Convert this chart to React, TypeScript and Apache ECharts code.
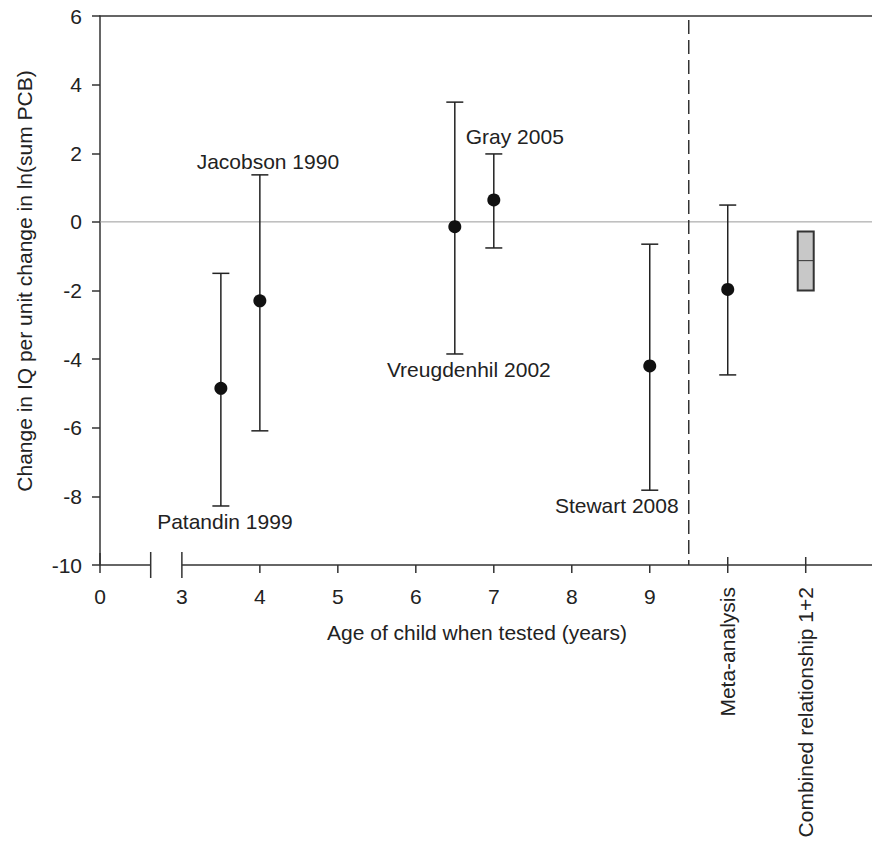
import React, { useEffect, useRef } from "react";
import * as echarts from "echarts";

// ---- data ----
const STUDIES = ["Patandin 1999", "Jacobson 1990", "Vreugdenhil 2002", "Gray 2005", "Stewart 2008"];
const AGES = [3.5, 4, 6.5, 7, 9];
const MEANS = [-4.85, -2.3, -0.14, 0.64, -4.2];
const LOWER = [-8.28, -6.09, -3.85, -0.76, -7.82];
const UPPER = [-1.5, 1.37, 3.49, 1.98, -0.65];

const META_POS = 10;
const META_MEAN = -1.97;
const META_LOWER = -4.46;
const META_UPPER = 0.49;

const COMBINED_POS = 11;
const COMBINED_LOW = -2.0;
const COMBINED_MID = -1.13;
const COMBINED_HIGH = -0.28;

const X_TICK_VALUES = [3, 4, 5, 6, 7, 8, 9];
const X_TICK_LABELS = ["3", "4", "5", "6", "7", "8", "9"];
const X_ZERO_LABEL = "0";
const CAT_POS = [10, 11];
const CAT_LABELS = ["Meta-analysis", "Combined relationship 1+2"];
const DIVIDER_POS = 9.5;

// broken-axis layout (axis units)
const X_MIN = 1.95; // where "0" sits on the broken axis
const BREAK_POS = 2.6;
const X_MAX = 11.85;
const Y_MIN = -10;
const Y_MAX = 6;

// label placement: anchor end of bar + pixel offset
const LABEL_PLACE: { end: "low" | "high"; dx: number; dy: number }[] = [
  { end: "low", dx: 4, dy: 16 },
  { end: "high", dx: 8, dy: -13 },
  { end: "low", dx: 14, dy: 16 },
  { end: "high", dx: 21, dy: -17 },
  { end: "low", dx: -33, dy: 15 },
];

const FONT = "'Liberation Sans', Arial, Helvetica, sans-serif";
const FS = 21;
const INK = "#222";

export default function App() {
  const ref = useRef<HTMLDivElement>(null);
  useEffect(() => {
    if (!ref.current) return;
    const chart = echarts.init(ref.current, undefined, { renderer: "svg" });

    const barData = AGES.map((a, i) => [a, LOWER[i], UPPER[i], i]);
    barData.push([META_POS, META_LOWER, META_UPPER, -1]);
    const dotData = AGES.map((a, i) => [a, MEANS[i]]);
    dotData.push([META_POS, META_MEAN]);

    const option: any = {
      animation: false,
      grid: { left: 100, right: 0, top: 16, bottom: 278 },
      xAxis: {
        type: "value",
        position: "top",
        min: X_MIN,
        max: X_MAX,
        axisLine: { show: true, onZero: false, lineStyle: { color: "#333", width: 1.5 } },
        axisTick: { show: false },
        axisLabel: { show: false },
        splitLine: { show: false },
      },
      yAxis: {
        type: "value",
        min: Y_MIN,
        max: Y_MAX,
        interval: 2,
        axisLine: { show: true, onZero: false, lineStyle: { color: "#333", width: 1.5 } },
        axisTick: { show: true, length: 8, lineStyle: { color: "#333", width: 1.5 } },
        axisLabel: { fontSize: FS, fontFamily: FONT, color: INK, margin: 18 },
        splitLine: { show: false },
      },
      graphic: [
        {
          type: "text",
          x: 477,
          y: 632,
          style: {
            text: "Age of child when tested (years)",
            fontSize: FS,
            fontFamily: FONT,
            fill: INK,
            align: "center",
            verticalAlign: "middle",
          },
        },
        {
          type: "text",
          x: 24,
          y: 281,
          rotation: Math.PI / 2,
          style: {
            text: "Change in IQ per unit change in ln(sum PCB)",
            fontSize: FS,
            fontFamily: FONT,
            fill: INK,
            align: "center",
            verticalAlign: "middle",
          },
        },
      ],
      series: [
        // axis decorations: zero line, divider, broken bottom axis, ticks, labels
        {
          type: "custom",
          silent: true,
          z: 1,
          data: [[X_MIN, Y_MIN]],
          renderItem: (params: any, api: any) => {
            const children: any[] = [];
            const axisY = api.coord([X_MIN, Y_MIN])[1];
            const topY = api.coord([X_MIN, Y_MAX])[1];
            const z0 = api.coord([X_MIN, 0]);
            const z1 = api.coord([X_MAX, 0]);
            children.push({
              type: "line",
              shape: { x1: z0[0], y1: z0[1], x2: z1[0], y2: z1[1] },
              style: { stroke: "#9a9a9a", lineWidth: 1 },
            });
            const dx = api.coord([DIVIDER_POS, 0])[0];
            children.push({
              type: "line",
              shape: { x1: dx, y1: topY + 4, x2: dx, y2: axisY },
              style: { stroke: "#333", lineWidth: 1.5, lineDash: [14, 6] },
            });
            const seg = (a: number, b: number) => {
              const pa = api.coord([a, Y_MIN])[0];
              const pb = api.coord([b, Y_MIN])[0];
              children.push({
                type: "line",
                shape: { x1: pa, y1: axisY, x2: pb, y2: axisY },
                style: { stroke: "#333", lineWidth: 1.5 },
              });
            };
            seg(X_MIN, BREAK_POS);
            seg(3, X_MAX);
            const tick = (v: number, up: number, down: number) => {
              const px = api.coord([v, Y_MIN])[0];
              children.push({
                type: "line",
                shape: { x1: px, y1: axisY - up, x2: px, y2: axisY + down },
                style: { stroke: "#333", lineWidth: 1.5 },
              });
              return px;
            };
            const numLabel = (px: number, text: string) => {
              children.push({
                type: "text",
                x: px,
                y: axisY + 31.5,
                style: { text, fontSize: FS, fontFamily: FONT, fill: INK, align: "center", verticalAlign: "middle" },
              });
            };
            numLabel(tick(X_MIN, 12, 8), X_ZERO_LABEL);
            tick(BREAK_POS, 13, 13);
            X_TICK_VALUES.forEach((v, i) => {
              const px = v === 3 ? tick(v, 13, 13) : tick(v, 0, 8);
              numLabel(px, X_TICK_LABELS[i]);
            });
            CAT_POS.forEach((v, i) => {
              const px = tick(v, 8, 8);
              children.push({
                type: "text",
                x: px,
                y: axisY + 22,
                rotation: Math.PI / 2,
                style: {
                  text: CAT_LABELS[i],
                  fontSize: FS,
                  fontFamily: FONT,
                  fill: INK,
                  align: "right",
                  verticalAlign: "middle",
                },
              });
            });
            return { type: "group", children };
          },
        },
        // error bars
        {
          type: "custom",
          silent: true,
          z: 2,
          data: barData,
          renderItem: (params: any, api: any) => {
            const x = api.value(0);
            const lo = api.coord([x, api.value(1)]);
            const hi = api.coord([x, api.value(2)]);
            const idx = api.value(3);
            const w = 8.5;
            const st = { stroke: INK, lineWidth: 1.5 };
            const children: any[] = [
              { type: "line", shape: { x1: lo[0], y1: lo[1], x2: hi[0], y2: hi[1] }, style: st },
              { type: "line", shape: { x1: lo[0] - w, y1: lo[1], x2: lo[0] + w, y2: lo[1] }, style: st },
              { type: "line", shape: { x1: hi[0] - w, y1: hi[1], x2: hi[0] + w, y2: hi[1] }, style: st },
            ];
            if (idx >= 0) {
              const pl = LABEL_PLACE[idx];
              const anchor = pl.end === "low" ? lo : hi;
              children.push({
                type: "text",
                x: anchor[0] + pl.dx,
                y: anchor[1] + pl.dy,
                style: {
                  text: STUDIES[idx],
                  fontSize: FS,
                  fontFamily: FONT,
                  fill: INK,
                  align: "center",
                  verticalAlign: "middle",
                },
              });
            }
            return { type: "group", children };
          },
        },
        // combined relationship box
        {
          type: "custom",
          silent: true,
          z: 2,
          data: [[COMBINED_POS, COMBINED_LOW, COMBINED_MID, COMBINED_HIGH]],
          renderItem: (params: any, api: any) => {
            const x = api.value(0);
            const lo = api.coord([x, api.value(1)]);
            const mid = api.coord([x, api.value(2)]);
            const hi = api.coord([x, api.value(3)]);
            const w = 8;
            return {
              type: "group",
              children: [
                {
                  type: "rect",
                  shape: { x: lo[0] - w, y: hi[1], width: 2 * w, height: lo[1] - hi[1] },
                  style: { fill: "#c8c8c8", stroke: "#333", lineWidth: 2 },
                },
                {
                  type: "line",
                  shape: { x1: lo[0] - w, y1: mid[1], x2: lo[0] + w, y2: mid[1] },
                  style: { stroke: "#333", lineWidth: 1 },
                },
              ],
            };
          },
        },
        // means
        {
          type: "scatter",
          z: 3,
          silent: true,
          symbol: "circle",
          symbolSize: 13,
          itemStyle: { color: "#111", opacity: 1 },
          data: dotData,
        },
      ],
    };

    chart.setOption(option);
    return () => chart.dispose();
  }, []);

  return (
    <div
      ref={ref}
      style={{ position: "fixed", left: 0, top: 0, width: 872, height: 843, background: "#fff" }}
    />
  );
}
